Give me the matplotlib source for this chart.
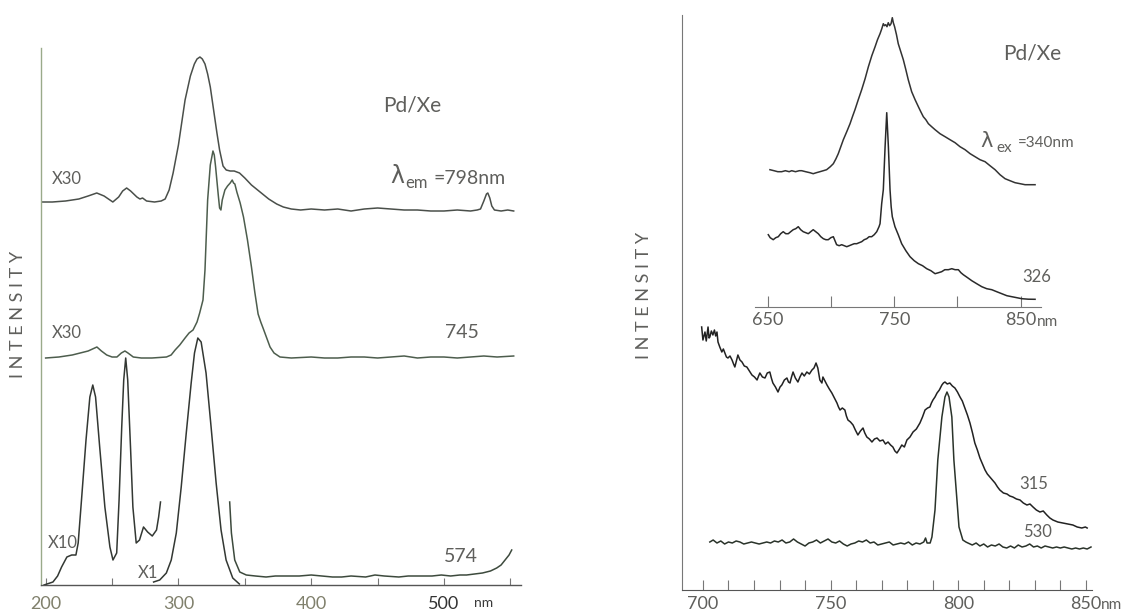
import matplotlib
matplotlib.use("Agg")
import matplotlib.pyplot as plt

W, H = 1129, 614

# ---- excitation spectra, Pd/Xe (wavelength nm, intensity arb.) ----
em798_x = [196.5, 205, 215, 225, 232, 238.5, 244, 250.6, 255, 258, 261, 264, 268.7, 271, 273, 276, 282, 287,
           290, 293, 296, 300, 305, 309, 312, 314, 316.2, 318, 320, 322, 324, 326.5, 329, 331, 333.6, 336, 339,
           342, 346, 350, 355, 361.5, 368, 374, 379, 385, 392, 400, 410, 420, 430, 440, 450, 460, 470, 480,
           490, 500, 510, 520, 525, 527.5, 530, 532, 533, 534.5, 536, 538, 543, 548, 552.5]
em798_y = [383, 383, 384, 386, 389, 392, 389, 383, 388, 394, 397, 394, 388, 386, 387, 384, 383, 384,
           386, 395, 412, 440, 485, 509, 521, 526, 528, 526, 521, 511, 498, 475, 452, 435, 419, 415, 414,
           414, 412, 407, 400, 393, 386, 381, 378, 376, 375, 376, 375, 376, 374, 376, 377, 376, 375, 375,
           374, 374, 375, 374, 375, 376, 384, 391, 392, 387, 379, 375, 374, 375, 374]

em745_x = [200, 210, 220, 226, 232, 238.6, 242, 246, 250, 253.7, 257, 259.7, 262, 266, 272, 280, 291, 294.5,
           297.5, 301, 305, 308, 311, 314, 316, 318.5, 320, 322, 324, 326, 327, 328, 330, 331, 332, 333, 335,
           337, 339, 340.5, 341.5, 342.5, 344, 346.5, 349, 352, 355, 357.5, 360, 362, 364, 366.5, 369, 372,
           376.5, 385, 400, 410, 420, 430, 440, 450, 460, 470, 480, 490, 500, 510, 520, 530, 540, 552.5]
em745_y = [227, 228, 230, 232, 234, 238, 234, 230, 228, 228, 232, 234, 232, 228, 227, 227, 228, 230,
           235, 240, 247, 252, 255, 263, 272, 285, 315, 385, 420, 434, 430, 418, 390, 377, 375, 385, 395,
           399, 402, 405, 402, 401, 393, 382, 368, 345, 318, 293, 271, 263, 256, 247, 238, 232,
           228, 227, 228, 227, 227, 228, 228, 227, 228, 229, 227, 228, 228, 227, 228, 229, 228, 229]

em574_x10_x = [198.8, 205.5, 209, 212, 216, 219.6, 222.8, 224.5, 227, 230.4, 233.3, 235.5, 237.6, 240.7,
               244.6, 248.4, 250.7, 253.5, 255.3, 257.3, 258.8, 260.3, 261.8, 264, 265.7, 268.2, 270.7,
               273.7, 276.8, 280.3, 283.5, 285.1, 286.5]
em574_x10_y = [0, 3, 9, 18, 28, 30, 30, 42, 85, 145, 188, 200, 188, 138,
               78, 38, 25, 32, 85, 158, 205, 227, 205, 135, 78, 42, 45,
               58, 53, 49, 55, 68, 83]

em574_x1_x = [281.3, 285.9, 290.9, 294.6, 298.4, 302.1, 305.9, 309.6, 312.1, 314.6, 317.1, 320.8, 324.6,
              328.4, 332.1, 335.9, 340.9, 345.9]
em574_x1_y = [3, 5, 12, 25, 52, 98, 152, 202, 232, 247, 243, 212, 158, 102, 55, 25, 7, 1]

em574_tail_x = [338.6, 339.9, 342.4, 346.2, 351.1, 358, 366, 373, 380, 391, 400, 408, 416, 423, 430, 441, 448,
                455, 466, 473, 480, 491, 498, 505, 512, 517, 523, 529, 535, 539.7, 543, 546, 549, 551]
em574_tail_y = [83, 52, 25, 13, 10, 9, 8, 9, 9, 9, 10, 9, 8, 8, 9, 8, 10,
                9, 8, 9, 9, 9, 10, 9, 10, 10, 11, 12, 14, 17, 20, 25, 30, 35]

# ---- emission spectra, excitation 315 / 530 nm ----
ex315_x = [699.5, 700.0, 700.8, 701.3, 702.0, 702.4, 702.7, 703.3, 703.9, 704.5, 705.0, 705.5, 705.9, 706.6,
           707.4, 708.0, 708.6, 709.2, 709.8, 710.6, 711.4, 712.0, 712.5, 713.1, 713.7, 714.5, 715.3, 716.2,
           717.2, 718.2, 719.2, 720.2, 721.2, 721.8, 722.3, 723.3, 724.3, 725.2, 726.2, 726.8, 727.4, 728.4,
           729.4, 730.2, 730.9, 731.9, 732.9, 733.5, 734.1, 734.7, 735.3, 736.2, 737.2, 738.0, 738.8, 739.7,
           740.7, 741.7, 742.7, 743.5, 744.3, 745.0, 745.8, 746.6, 747.0, 747.8, 748.6, 749.5, 750.5, 751.5,
           752.5, 753.1, 753.7, 754.6, 755.6, 756.2, 756.8, 757.8, 758.8, 759.7, 760.7, 761.7, 762.7, 763.4,
           764.2, 765.2, 766.2, 767.2, 768.2, 769.3, 770.5, 771.5, 772.5, 773.5, 774.4, 775.2, 776.0, 777.0,
           777.9, 778.9, 779.9, 781.1, 782.3, 783.6, 785.0, 786.0, 787.0, 788.0, 788.9, 789.5, 790.1, 790.9,
           791.7, 792.6, 793.6, 794.2, 794.8, 795.7, 796.7, 797.7, 798.7, 799.7, 800.7, 801.6, 802.6, 803.6,
           804.6, 805.6, 806.5, 807.5, 808.5, 809.5, 810.5, 811.4, 812.4, 813.4, 814.4, 815.4, 816.3, 817.7,
           819.1, 820.2, 821.4, 822.8, 824.2, 825.5, 826.9, 828.1, 829.3, 830.6, 832.0, 833.3, 834.7, 835.9,
           837.1, 839.0, 841.0, 843.0, 844.9, 846.6, 848.4, 849.8, 850.5]
ex315_y = [263, 250, 258, 249, 263, 252, 253, 259, 255, 260, 254, 258, 248, 243,
           238, 241, 237, 233, 232, 234, 230, 226, 223, 229, 235, 230, 228, 224,
           223, 219, 215, 213, 210, 214, 217, 213, 212, 217, 218, 212, 207, 203,
           198, 203, 205, 210, 212, 208, 207, 213, 218, 212, 208, 213, 217, 214,
           218, 216, 220, 222, 227, 222, 210, 207, 213, 209, 205, 201, 197, 192,
           187, 183, 180, 182, 180, 174, 170, 168, 165, 160, 155, 159, 162, 157,
           153, 151, 148, 151, 152, 149, 150, 146, 148, 145, 143, 139, 137, 141,
           145, 143, 150, 153, 158, 161, 167, 173, 180, 182, 183, 187, 190, 193,
           197, 200, 205, 207, 208, 206, 207, 204, 202, 198, 193, 189, 182, 175,
           167, 157, 147, 140, 132, 126, 120, 116, 113, 110, 107, 103, 100, 97,
           96, 94, 93, 91, 90, 87, 85, 86, 83, 80, 78, 79, 75, 72,
           70, 68, 67, 66, 65, 63, 62, 63, 62]

ex530_x = [702.7, 704, 705.5, 707, 708.5, 710, 711.5, 713, 714.5, 716, 717.5, 719, 720.5, 722, 723.5, 725,
           726.5, 728, 729.5, 731, 732.5, 734, 735.5, 737, 738.5, 740, 741.5, 743, 744.5, 746, 747.5, 749,
           750.5, 752, 753.5, 755, 756.5, 758, 759.5, 761, 762.5, 764, 765.5, 767, 768.5, 770, 771.5, 773,
           774.5, 776, 777.5, 779, 780.5, 782, 783.5, 785, 786.5, 787.2, 787.8, 789, 789.7, 790.9, 792.0,
           793.6, 794.8, 795.6, 796.4, 797.5, 798.3, 799.5, 800.3, 801.8, 803.0, 803.8, 805.5, 807, 808.5,
           810, 811.5, 813, 814.5, 816, 817.5, 819, 820.5, 822, 823.5, 825, 826.5, 828, 829.5, 831, 832.5,
           834, 835.5, 837, 838.5, 840, 841.5, 843, 844.5, 846, 847.5, 849, 850.5, 852]
ex530_y = [48, 50, 47, 49, 46, 48, 47, 49, 48, 46, 47, 48, 47, 46, 47, 48,
           47, 49, 48, 50, 47, 48, 51, 48, 46, 44, 47, 48, 50, 47, 49, 51,
           48, 47, 49, 46, 44, 46, 47, 49, 48, 50, 47, 48, 45, 46, 47, 48,
           45, 46, 47, 46, 48, 45, 47, 46, 48, 52, 47, 47, 53, 80, 130,
           173, 193, 198, 193, 173, 130, 90, 63, 50, 48, 47, 45, 47, 44,
           46, 43, 45, 44, 46, 43, 42, 44, 42, 45, 43, 44, 46, 43, 44, 42,
           44, 43, 42, 43, 42, 43, 42, 41, 42, 41, 42, 41, 43]

# ---- emission spectra, excitation 340 / 326 nm (upper plot) ----
ex340_x = [651.8, 655, 658, 661.1, 664, 667, 669, 672, 675, 676.9, 680, 683.4, 686, 688.5, 691.3, 694,
           696.6, 699.5, 701.9, 704, 705.8, 707.8, 709.8, 712.5, 715.1, 717, 719, 721.6, 724.3, 727, 729.6,
           732.3, 734.9, 736.8, 738.8, 740.2, 741.4, 742.3, 743.3, 744.3, 745.3, 746.4, 747.5, 748.5, 749.3,
           750.3, 751.8, 753.2, 755.2, 757.2, 759.2, 761.1, 763.8, 766.5, 769.1, 771, 773, 775, 777, 779.6,
           782.3, 786.2, 790.2, 794.1, 798.1, 802, 806, 810, 813.9, 817.8, 821.8, 825.7, 829.7, 833.6,
           837.6, 841.5, 845.5, 849.5, 853.4, 857.3, 861.3]
ex340_y = [137, 136, 135, 135, 136, 135, 136, 135, 136, 136, 135, 134, 133, 134, 135, 136,
           137, 140, 143, 148, 153, 160, 167, 175, 183, 190, 197, 207, 217, 228, 240,
           251, 260, 267, 273, 278, 283, 281, 282, 280, 284, 281, 283, 289, 284,
           280, 272, 263, 255, 247, 237, 227, 215, 207, 200, 195, 190, 187, 183, 180,
           177, 173, 170, 167, 164, 160, 157, 153, 150, 147, 145, 141, 137, 132,
           128, 126, 124, 123, 122, 122, 122]

ex326_x = [650.5, 652, 654.4, 656.4, 658.4, 660.3, 662.3, 664.3, 666.3, 668.2, 670.2, 672.2, 674.2, 676.1,
           678.1, 680.1, 682.1, 684, 686, 688, 690, 692, 694, 696, 697.9, 699.9, 701.9, 703.2, 704.5, 706.5,
           708.5, 710.5, 712.5, 714.5, 716.4, 718.4, 720.4, 722.3, 724.3, 726.3, 728.3, 730.2, 732.2, 734.2,
           736.2, 738, 738.8, 740.1, 741.4, 742.8, 744.1, 745.4, 746.7, 747.6, 748.5, 750.6, 753.2, 755.9,
           759.2, 762.5, 765.8, 769.1, 772.4, 775.7, 779, 782.3, 785, 787.5, 790, 792.8, 795.5, 798.1, 800.7,
           802.7, 804.6, 808, 811.3, 815.2, 819.2, 823.1, 827.1, 831, 835, 839, 842.9, 846.9, 850.8, 856,
           861.3]
ex326_y = [72, 69, 67, 69, 70, 73, 75, 73, 73, 75, 77, 78, 80, 77,
           75, 74, 73, 75, 77, 75, 73, 70, 68, 67, 67, 69, 70, 66, 62, 61,
           62, 61, 60, 61, 62, 63, 63, 64, 65, 67, 68, 70, 70, 72,
           75, 80, 83, 103, 117, 160, 194, 160, 117, 100, 90, 80, 72, 63,
           56, 50, 46, 43, 41, 38, 36, 33, 34, 35, 37, 37, 38, 37, 37,
           34, 32, 29, 26, 23, 20, 18, 17, 15, 13, 11, 10, 9, 8, 7.5,
           7.4]

TXT = "#5f5f5c"
INK = "#333833"
plt.rcParams['font.family'] = ['Lato', 'DejaVu Sans']

fig = plt.figure(figsize=(W / 100, H / 100), dpi=100)


def box(left, top, right, bottom):
    return [left / W, 1 - bottom / H, (right - left) / W, (bottom - top) / H]


def label(x, y, s, size=12, color=TXT, **kw):
    fig.text(x / W, 1 - y / H, s, fontsize=size, color=color, ha='center', va='center', **kw)


# left plot: excitation spectra
ax1 = fig.add_axes(box(41, 48, 521, 585))
ax1.plot(em798_x, em798_y, color="#4a4f4a", lw=1.1)
ax1.plot(em745_x, em745_y, color="#4d5d4d", lw=1.1)
ax1.plot(em574_x10_x, em574_x10_y, color=INK, lw=1.1)
ax1.plot(em574_x1_x, em574_x1_y, color=INK, lw=1.1)
ax1.plot(em574_tail_x, em574_tail_y, color="#3d4a3d", lw=1.1)
ax1.set_xlim(196.5, 558)
ax1.set_ylim(0, 537)
ax1.set_xticks([200, 250, 300, 350, 400, 450, 500, 550])
ax1.set_xticklabels(['200', '', '300', '', '400', '', '500', ''])
for t, c in zip(ax1.get_xticklabels(), ['#80806c', TXT, '#80806c', TXT, '#80806c', TXT, '#333', TXT]):
    t.set_color(c)
ax1.set_yticks([])
ax1.tick_params(axis='x', direction='in', length=5, width=0.8, color='#777', pad=8, labelsize=13)
ax1.spines['top'].set_visible(False)
ax1.spines['right'].set_visible(False)
ax1.spines['left'].set_color('#9aaa8a')
ax1.spines['bottom'].set_color('#555')
ax1.spines['left'].set_linewidth(1.0)
ax1.spines['bottom'].set_linewidth(1.0)
ax1.set_facecolor('none')

# right plot: emission spectra
ax2 = fig.add_axes(box(682, 15, 1092, 590))
ax2.plot(ex315_x, ex315_y, color="#222", lw=1.1)
ax2.plot(ex530_x, ex530_y, color="#2a332a", lw=1.1)
ax2.set_xlim(691.8, 852.4)
ax2.set_ylim(0, 575)
ax2.set_xticks(range(700, 851, 10))
ax2.set_xticklabels([str(v) if v % 50 == 0 else '' for v in range(700, 851, 10)])
ax2.set_yticks([])
ax2.tick_params(axis='x', direction='in', length=7, width=0.8, color='#777', pad=4,
                labelsize=13, labelcolor=TXT)
ax2.spines['top'].set_visible(False)
ax2.spines['right'].set_visible(False)
ax2.spines['left'].set_color('#777')
ax2.spines['bottom'].set_color('#555')
ax2.set_facecolor('none')

# upper plot inside the right panel
ax3 = fig.add_axes(box(755, 15, 1041, 306.7))
ax3.plot(ex340_x, ex340_y, color="#333", lw=1.1)
ax3.plot(ex326_x, ex326_y, color="#2a2a2a", lw=1.1)
ax3.set_xlim(640, 866)
ax3.set_ylim(0, 291.7)
ax3.set_xticks([650, 700, 750, 800, 850])
ax3.set_xticklabels(['650', '', '750', '', '850'])
ax3.set_yticks([])
ax3.tick_params(axis='x', direction='in', length=8, width=0.8, color='#777', pad=4,
                labelsize=13, labelcolor=TXT)
for s in ['top', 'right', 'left']:
    ax3.spines[s].set_visible(False)
ax3.spines['bottom'].set_color('#777')
ax3.set_facecolor('none')

# annotations, left plot
label(18, 314, "I N T E N S I T Y", size=13, rotation=90)
label(412, 106, "Pd/Xe", size=15)
label(397, 176, "λ", size=17, family=['DejaVu Sans'])
label(417, 183, "em", size=12)
label(470, 178, "=798nm", size=14)
label(67, 179, "X30", size=12)
label(67, 333, "X30", size=12)
label(462, 332, "745", size=14)
label(63, 543, "X10", size=12)
label(148, 573, "X1", size=12)
label(461, 557, "574", size=14)
label(484, 603, "nm", size=10, color='#3a3a3a')

# annotations, right plot
label(644, 295, "I N T E N S I T Y", size=13, rotation=90)
label(1032, 53, "Pd/Xe", size=15)
label(987, 141, "λ", size=15, family=['DejaVu Sans'])
label(1004, 148, "ex", size=11)
label(1046, 143, "=340nm", size=11)
label(1037, 277, "326", size=12)
label(1034, 484, "315", size=12)
label(1038, 532, "530", size=12)
label(1047, 322, "nm", size=11)
label(1111, 605, "nm", size=11)

fig.savefig("out.png", dpi=100)
